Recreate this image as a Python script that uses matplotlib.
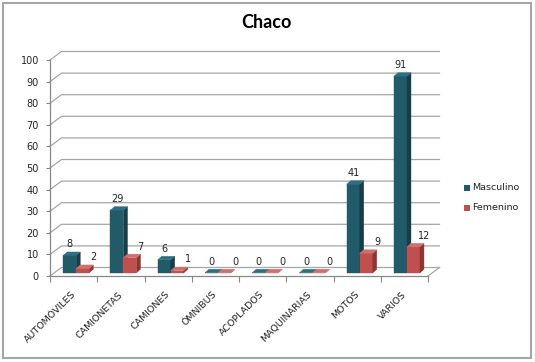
import matplotlib.pyplot as plt
from matplotlib.patches import Polygon, Rectangle

# datos del grafico
categorias = ['AUTOMÓVILES', 'CAMIONETAS', 'CAMIONES', 'ÓMNIBUS',
              'ACOPLADOS', 'MAQUINARIAS', 'MOTOS', 'VARIOS']
masculino = [8, 29, 6, 0, 0, 0, 41, 91]
femenino = [2, 7, 1, 0, 0, 0, 9, 12]
series = ['Masculino', 'Femenino']
y_ticks = [0, 10, 20, 30, 40, 50, 60, 70, 80, 90, 100]

# colores: frente, lado, tapa
col_m = ('#215a69', '#163e48', '#2e7083')
col_f = ('#c0504d', '#8c3533', '#d06f6c')

W, H = 535, 362
fig = plt.figure(figsize=(W / 100, H / 100), dpi=100)
ax = fig.add_axes([50 / W, 1 - 276 / H, 378 / W, 216 / H])
ax.set_xlim(0, 8)
ax.set_ylim(0, 100)

px_x = 378 / 8      # pixeles por categoria
px_y = 216 / 100    # pixeles por unidad
dx, dy = 11.5 / px_x, 8.5 / px_y   # profundidad de la pared del fondo
bdx, bdy = 4 / px_x, 3.5 / px_y    # profundidad de cada barra
b0 = 1.5                            # base de las barras

grid_col = '#a6a6a6'
for v in y_ticks:
    ax.plot([0, dx, 8 + dx], [v, v + dy, v + dy], color=grid_col, lw=0.9,
            clip_on=False, zorder=1)
ax.plot([8, 8 + dx], [0, dy], color=grid_col, lw=0.9, clip_on=False, zorder=1)


def barra(x0, w, h, cols):
    front = [(x0, b0), (x0 + w, b0), (x0 + w, b0 + h), (x0, b0 + h)]
    side = [(x0 + w, b0), (x0 + w + bdx, b0 + bdy),
            (x0 + w + bdx, b0 + h + bdy), (x0 + w, b0 + h)]
    top = [(x0, b0 + h), (x0 + w, b0 + h),
           (x0 + w + bdx, b0 + h + bdy), (x0 + bdx, b0 + h + bdy)]
    for pts, c in zip([front, side, top], cols):
        ax.add_patch(Polygon(pts, closed=True, facecolor=c, edgecolor=c,
                             lw=0.3, zorder=3, clip_on=False))


for i, (m, f) in enumerate(zip(masculino, femenino)):
    barra(i + 0.28, 0.275, m, col_m)
    barra(i + 0.555, 0.275, f, col_f)
    ax.annotate(str(m), (i + 0.42, b0 + m), xytext=(0, 8),
                textcoords='offset points', ha='center', va='center',
                fontsize=7, color='#222222', zorder=5)
    ax.annotate(str(f), (i + 0.92, b0 + f), xytext=(0, 8),
                textcoords='offset points', ha='center', va='center',
                fontsize=7, color='#222222', zorder=5)
    ax.annotate(categorias[i], (i + 0.5, 0), xytext=(-2, -10),
                textcoords='offset points', rotation=45,
                rotation_mode='anchor', ha='right', va='top',
                fontsize=6.8, color='#222222')

ax.set_yticks(y_ticks)
ax.set_xticks(range(9))
ax.set_xticklabels([])
ax.tick_params(axis='y', length=3, color='#888888', labelsize=7, pad=5,
               labelcolor='#222222')
ax.tick_params(axis='x', length=4, color='#888888')
for s in ['top', 'right']:
    ax.spines[s].set_visible(False)
for s in ['left', 'bottom']:
    ax.spines[s].set_color('#888888')
    ax.spines[s].set_linewidth(0.9)
ax.patch.set_visible(False)

# titulo
fig.text(266.7 / W, 1 - 22.7 / H, 'Chaco', ha='center', va='center',
         fontsize=13, fontweight='bold', family='Lato')

# leyenda
for k, (nombre, c) in enumerate(zip(series, [col_m[0], col_f[0]])):
    yc = 187.7 + 20 * k
    fig.patches.append(Rectangle((464 / W, 1 - (yc + 3) / H), 6 / W, 6 / H,
                                 transform=fig.transFigure, facecolor=c,
                                 edgecolor='none'))
    fig.text(472 / W, 1 - yc / H, nombre, ha='left', va='center',
             fontsize=6.8, color='#222222')

# marco
fig.patches.append(Rectangle((3 / W, 1 - 358 / H), 528 / W, 355 / H,
                             transform=fig.transFigure, facecolor='none',
                             edgecolor='#a6a6a6', lw=1.5))

fig.savefig('out.png', dpi=100)
